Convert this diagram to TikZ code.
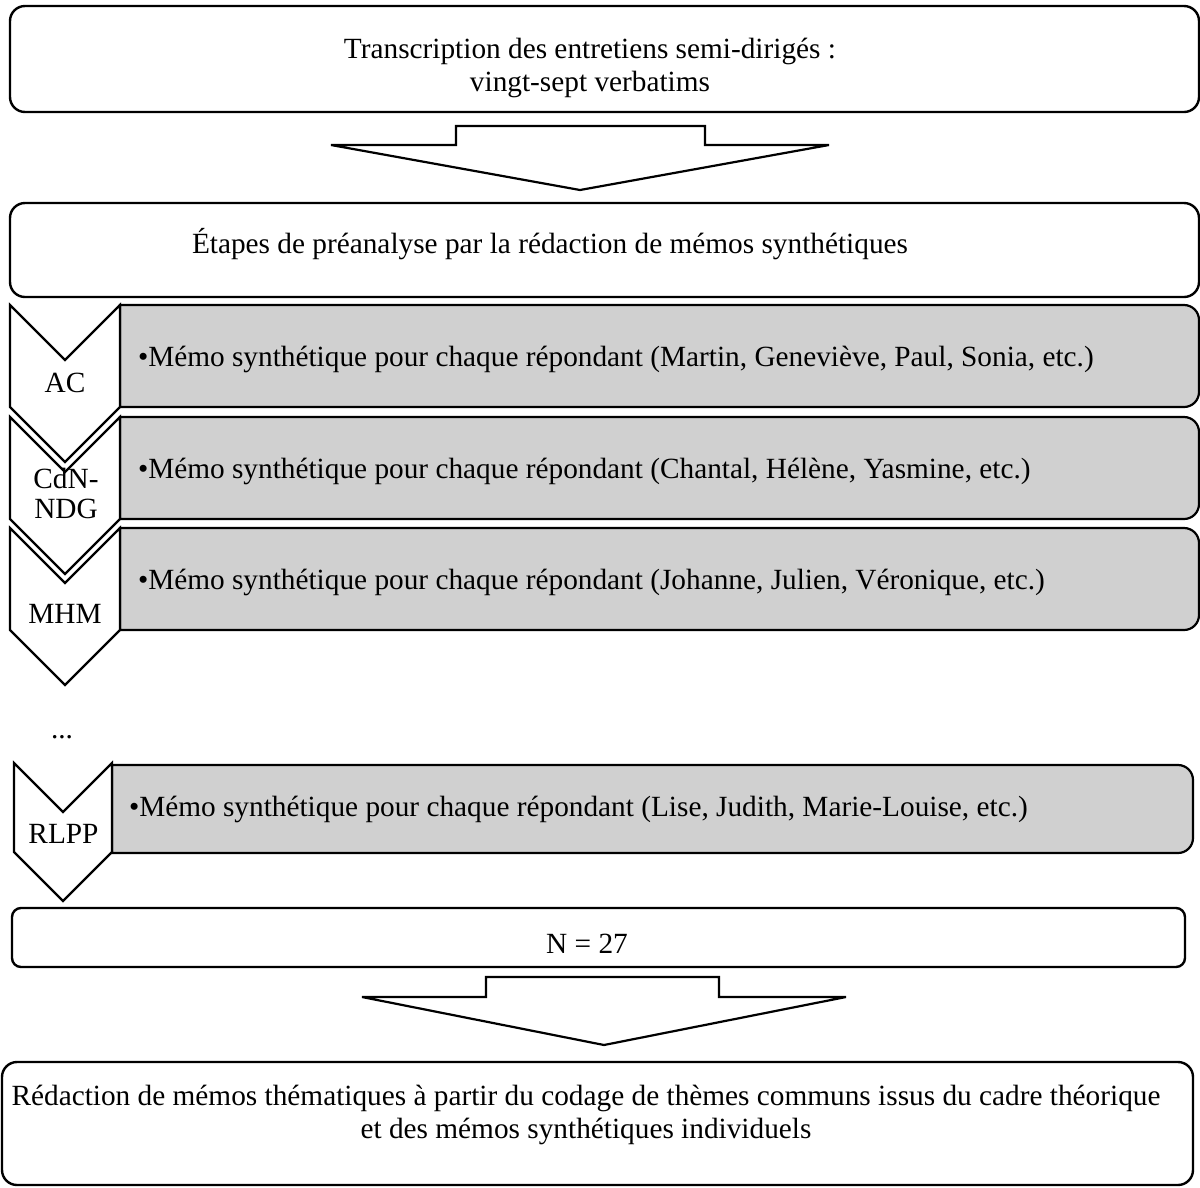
\documentclass[tikz,border=0pt]{standalone}
\usepackage{fontspec}
\setmainfont{Liberation Serif}
\definecolor{boxgray}{RGB}{208,208,208}
\newcommand{\grayboxpath}[4]{%
  \draw[gbox] (#1,-#2) -- ({#3-15},-#2) arc[start angle=90,end angle=0,radius=15pt]
    -- (#3,{-#4+15}) arc[start angle=0,end angle=-90,radius=15pt]
    -- (#1,-#4) -- cycle;}
\newcommand{\chevronpath}[5]{%
  \draw[chev] (#1,-#3) -- ({(#1+#2)/2},{-#3-#5}) -- (#2,-#3) -- (#2,-#4)
    -- ({(#1+#2)/2},{-#4-#5}) -- (#1,-#4) -- cycle;}
\begin{document}
\begin{tikzpicture}[x=1pt,y=1pt,
  frame/.style={draw=black, line width=2.4pt, rounded corners=15pt},
  gbox/.style={draw=black, line width=2.2pt, fill=boxgray},
  chev/.style={draw=black, line width=2.2pt, fill=white, line join=miter},
  blockarrow/.style={draw=black, line width=2.2pt, fill=white, line join=miter},
  txt/.style={font=\fontsize{29.3}{33}\selectfont, inner sep=0pt, outer sep=0pt},
]
\useasboundingbox[fill=white] (0,0) rectangle (1200,-1187);

% top box
\draw[frame] (10,-6) rectangle (1199,-112);
\node[txt, anchor=base] (t1a) at (590,-58) {Transcription des entretiens semi-dirigés :};
\node[txt, anchor=base] (t1b) at (590,-91) {vingt-sept verbatims};

% arrow 1
\draw[blockarrow] (456,-126) -- (705,-126) -- (705,-145) -- (829,-145) -- (580,-190)
  -- (331,-145) -- (456,-145) -- cycle;

% box 2
\draw[frame] (10,-203) rectangle (1199,-297);
\node[txt, anchor=base west] (t2) at (192,-253) {Étapes de préanalyse par la rédaction de mémos synthétiques};

% gray boxes
\grayboxpath{120}{305}{1199}{407}
\grayboxpath{120}{417}{1199}{519}
\grayboxpath{120}{528}{1199}{630}
\grayboxpath{112}{765}{1193}{853}

% chevrons
\chevronpath{10}{120}{305}{407}{55}
\chevronpath{10}{120}{417}{519}{55}
\chevronpath{10}{120}{528}{630}{55}
\chevronpath{14}{112}{763}{852}{49}

% gray box texts
\node[txt, anchor=base west] (g1) at (138,-366) {•Mémo synthétique pour chaque répondant (Martin, Geneviève, Paul, Sonia, etc.)};
\node[txt, anchor=base west] (g2) at (138,-478) {•Mémo synthétique pour chaque répondant (Chantal, Hélène, Yasmine, etc.)};
\node[txt, anchor=base west] (g3) at (138,-589) {•Mémo synthétique pour chaque répondant (Johanne, Julien, Véronique, etc.)};
\node[txt, anchor=base west] (g4) at (129,-816) {•Mémo synthétique pour chaque répondant (Lise, Judith, Marie-Louise, etc.)};

% chevron labels
\node[txt, anchor=base] (c1) at (65,-392) {AC};
\node[txt, anchor=base] (c2a) at (66,-488) {CdN-};
\node[txt, anchor=base] (c2b) at (66,-518) {NDG};
\node[txt, anchor=base] (c3) at (65,-623) {MHM};
\node[txt, anchor=base] (dots) at (62,-738) {...};
\node[txt, anchor=base] (c4) at (63.5,-843) {RLPP};

% N = 27 box
\draw[frame, rounded corners=9pt] (12,-908) rectangle (1185,-967);
\node[txt, anchor=base] (n27) at (587,-953) {N = 27};

% arrow 2
\draw[blockarrow] (486,-977) -- (719,-977) -- (719,-997) -- (846,-997) -- (604,-1045)
  -- (362,-997) -- (486,-997) -- cycle;

% bottom box
\draw[frame] (2,-1062) rectangle (1193,-1185);
\node[txt, anchor=base] (b1) at (586,-1105) {Rédaction de mémos thématiques à partir du codage de thèmes communs issus du cadre théorique};
\node[txt, anchor=base] (b2) at (586,-1138) {et des mémos synthétiques individuels};
\end{tikzpicture}
\end{document}
